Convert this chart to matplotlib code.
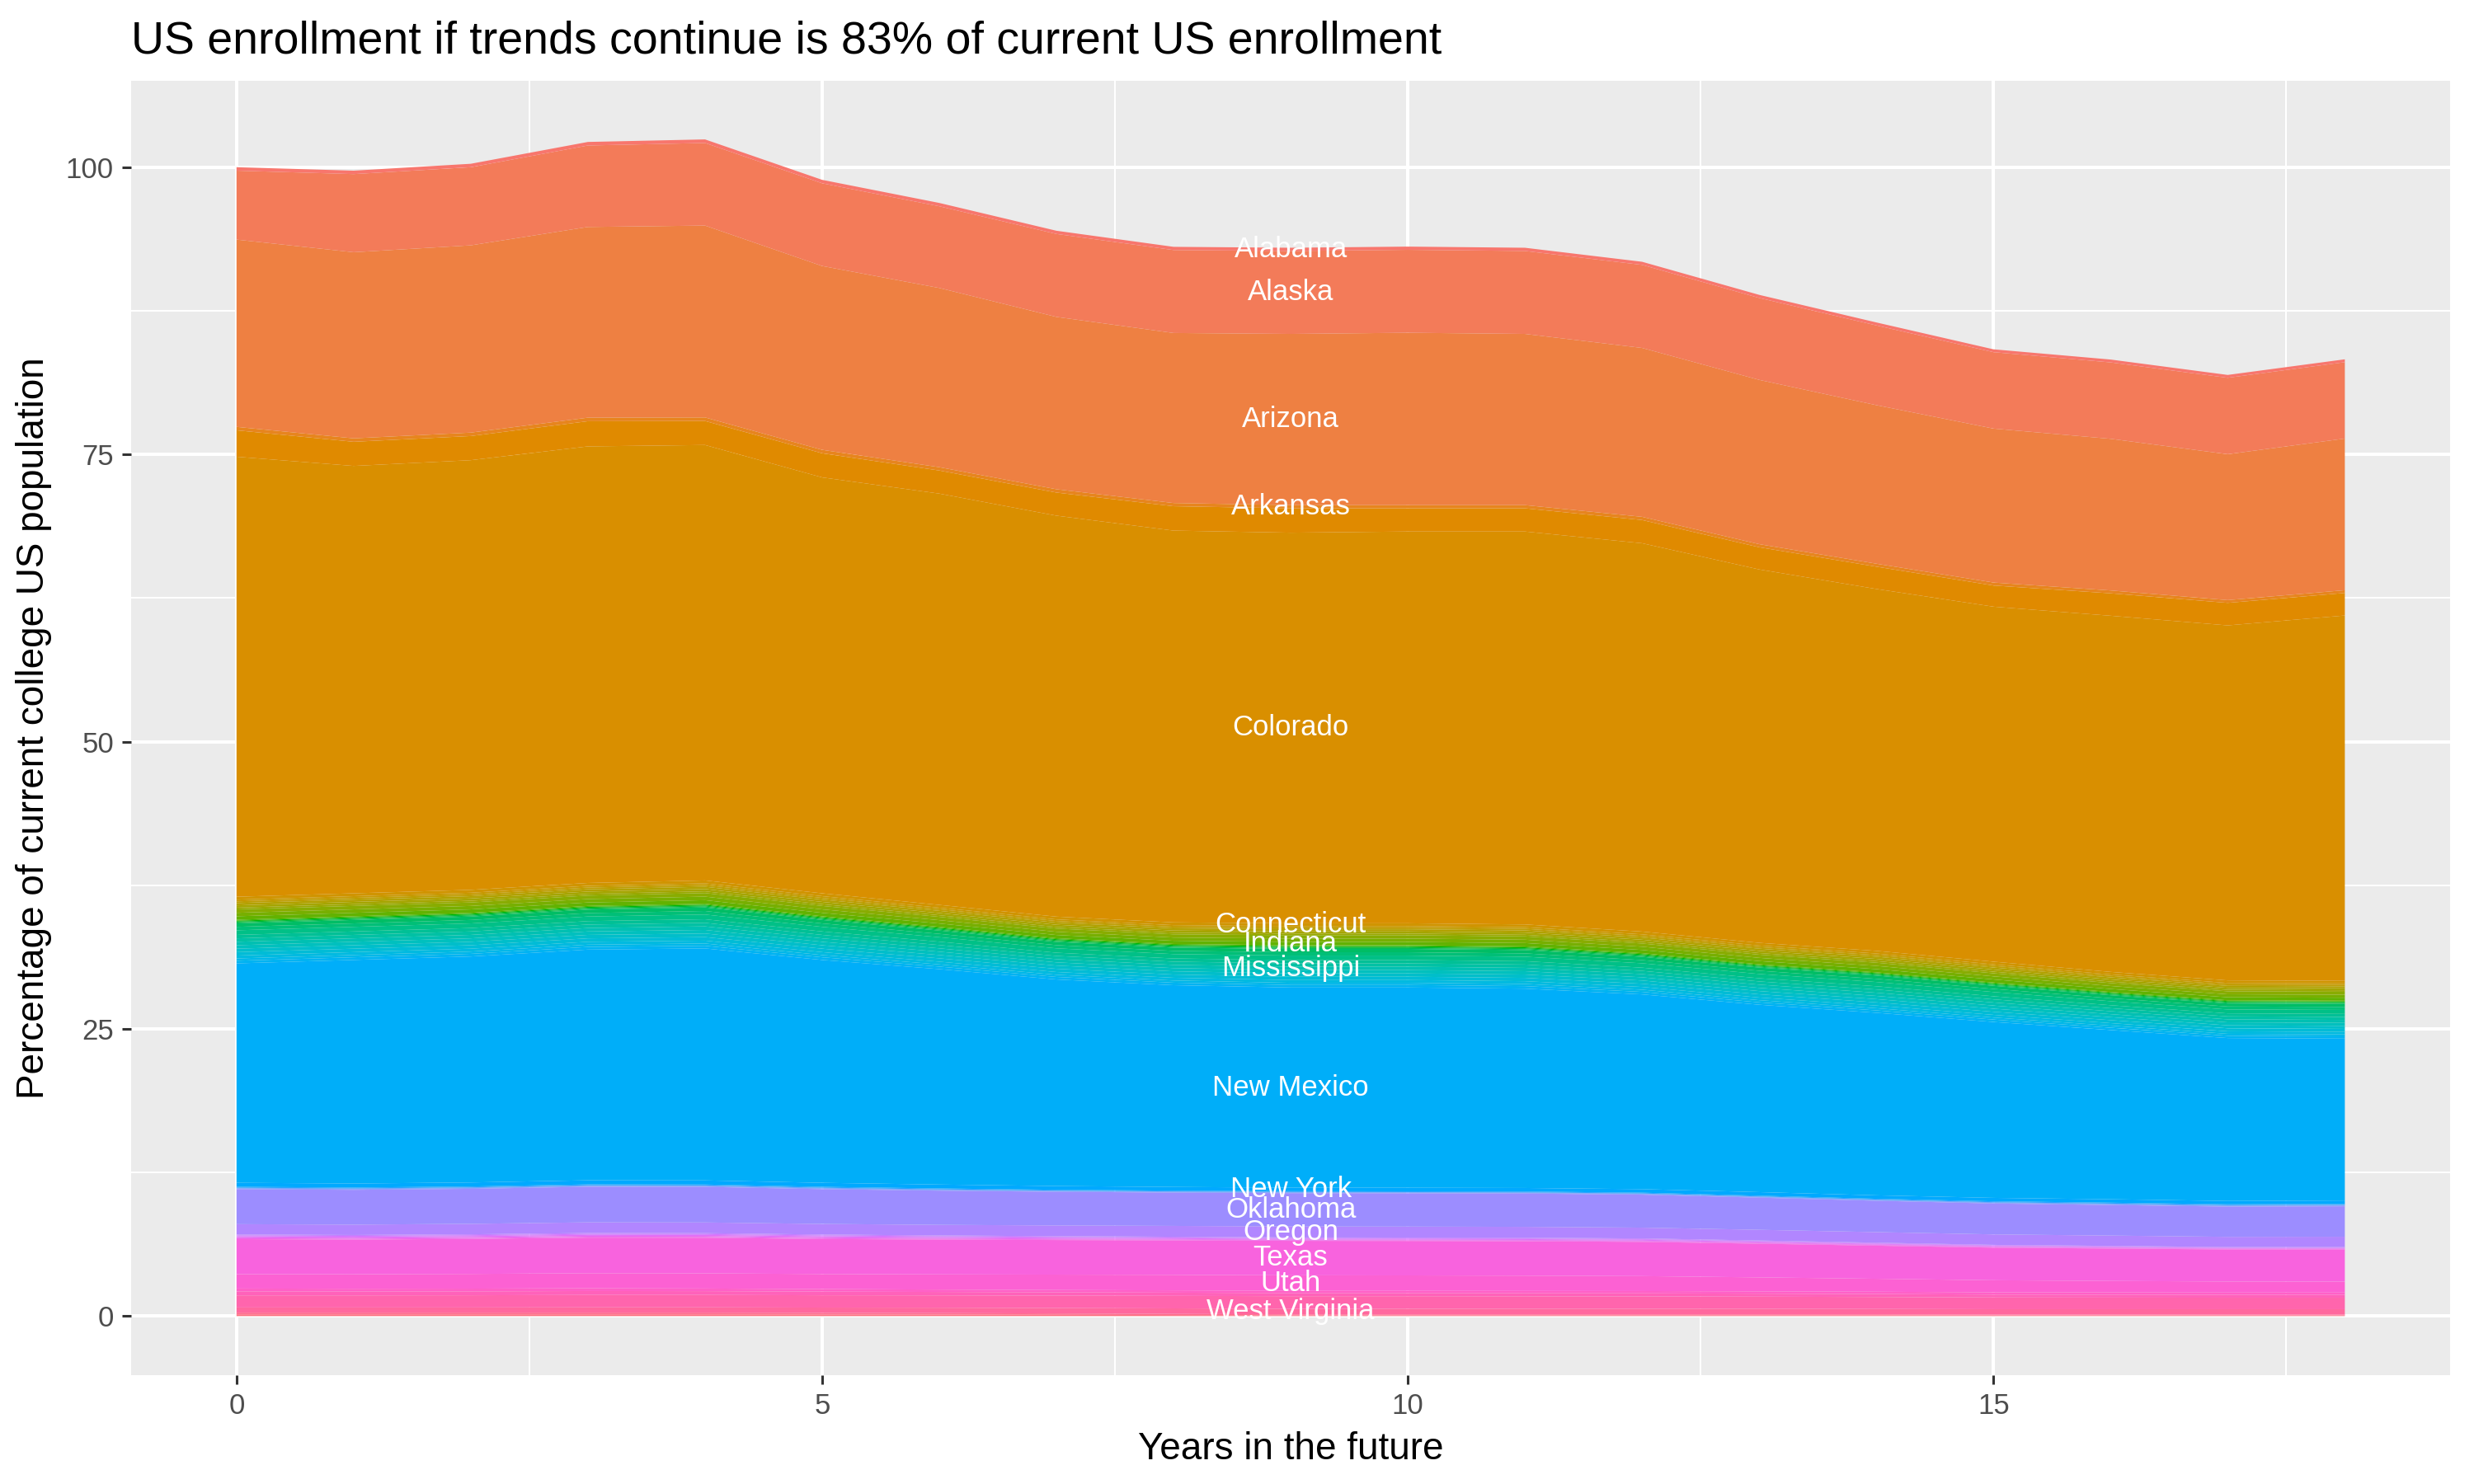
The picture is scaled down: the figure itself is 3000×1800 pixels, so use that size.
import matplotlib
matplotlib.use("Agg")
import matplotlib.pyplot as plt
from matplotlib.ticker import MultipleLocator
import numpy as np

plt.rcParams['font.family'] = ['Liberation Sans', 'DejaVu Sans']

# years after today
years = list(range(19))

# share of current US college population, one list per state (order = stacking order, top first)
states = ["Alabama", "Alaska", "Arizona", "Arkansas", "California", "Colorado", "Connecticut",
          "Delaware", "District of Columbia", "Florida", "Georgia", "Hawaii", "Idaho", "Illinois",
          "Indiana", "Iowa", "Kansas", "Kentucky", "Louisiana", "Maine", "Maryland",
          "Massachusetts", "Michigan", "Minnesota", "Mississippi", "Missouri", "Montana",
          "Nebraska", "Nevada", "New Hampshire", "New Jersey", "New Mexico", "New York",
          "North Carolina", "North Dakota", "Ohio", "Oklahoma", "Oregon", "Pennsylvania",
          "Rhode Island", "South Carolina", "South Dakota", "Tennessee", "Texas", "Utah",
          "Vermont", "Virginia", "Washington", "West Virginia", "Wisconsin", "Wyoming"]

alabama = [0.30, 0.30, 0.30, 0.31, 0.31, 0.30, 0.29, 0.28, 0.28, 0.28, 0.28, 0.28, 0.27, 0.27, 0.26, 0.25, 0.25, 0.25, 0.25]
alaska = [6.00, 6.80, 6.80, 7.09, 7.19, 7.20, 7.11, 7.22, 7.22, 7.22, 7.22, 7.22, 7.23, 7.13, 6.94, 6.65, 6.65, 6.65, 6.65]
arizona = [16.3, 16.2, 16.3, 16.6, 16.7, 16.0, 15.6, 15.0, 14.8, 14.9, 15.0, 14.9, 14.7, 14.3, 13.8, 13.4, 13.2, 12.7, 13.2]
arkansas = [0.30, 0.30, 0.30, 0.31, 0.31, 0.30, 0.29, 0.29, 0.28, 0.28, 0.28, 0.28, 0.28, 0.27, 0.26, 0.26, 0.25, 0.24, 0.24]
california = [2.30, 2.10, 2.10, 2.19, 2.09, 2.10, 2.01, 2.01, 2.12, 2.12, 2.02, 2.02, 2.02, 1.93, 1.94, 1.84, 1.95, 1.96, 1.96]
colorado = [38.3, 37.2, 37.4, 38.0, 37.9, 36.2, 35.8, 34.9, 34.1, 34.0, 34.1, 34.2, 33.8, 32.5, 31.5, 30.9, 31.0, 30.9, 31.8]
connecticut = [0.25, 0.25, 0.25, 0.25, 0.25, 0.25, 0.24, 0.24, 0.24, 0.24, 0.24, 0.24, 0.24, 0.23, 0.23, 0.23, 0.22, 0.22, 0.22]
delaware = [0.15, 0.15, 0.15, 0.15, 0.15, 0.15, 0.14, 0.14, 0.14, 0.14, 0.14, 0.14, 0.14, 0.14, 0.14, 0.14, 0.13, 0.13, 0.13]
dc = [0.15, 0.15, 0.15, 0.15, 0.15, 0.15, 0.14, 0.14, 0.14, 0.14, 0.14, 0.14, 0.14, 0.14, 0.14, 0.14, 0.13, 0.13, 0.13]
florida = [0.20, 0.20, 0.20, 0.20, 0.20, 0.20, 0.19, 0.19, 0.19, 0.19, 0.19, 0.19, 0.19, 0.19, 0.19, 0.18, 0.18, 0.17, 0.17]
georgia = [0.20, 0.20, 0.20, 0.20, 0.20, 0.20, 0.19, 0.19, 0.19, 0.19, 0.19, 0.19, 0.19, 0.19, 0.19, 0.18, 0.18, 0.17, 0.17]
hawaii = [0.15, 0.15, 0.15, 0.15, 0.15, 0.15, 0.14, 0.14, 0.14, 0.14, 0.14, 0.14, 0.14, 0.14, 0.14, 0.14, 0.13, 0.13, 0.13]
idaho = [0.30, 0.30, 0.30, 0.30, 0.31, 0.30, 0.29, 0.28, 0.28, 0.29, 0.29, 0.29, 0.28, 0.28, 0.28, 0.27, 0.26, 0.26, 0.26]
illinois = [0.30, 0.30, 0.30, 0.30, 0.31, 0.30, 0.29, 0.28, 0.28, 0.29, 0.29, 0.29, 0.28, 0.28, 0.28, 0.27, 0.26, 0.26, 0.26]
indiana = [0.30, 0.30, 0.30, 0.30, 0.31, 0.30, 0.29, 0.28, 0.28, 0.29, 0.29, 0.29, 0.28, 0.28, 0.28, 0.27, 0.26, 0.26, 0.26]
iowa = [0.08, 0.08, 0.08, 0.08, 0.08, 0.08, 0.08, 0.08, 0.08, 0.08, 0.08, 0.08, 0.08, 0.07, 0.07, 0.07, 0.07, 0.07, 0.07]
kansas = [0.08, 0.08, 0.08, 0.08, 0.08, 0.08, 0.08, 0.08, 0.08, 0.08, 0.08, 0.08, 0.08, 0.07, 0.07, 0.07, 0.07, 0.07, 0.07]
kentucky = [0.08, 0.08, 0.08, 0.08, 0.08, 0.08, 0.08, 0.08, 0.08, 0.08, 0.08, 0.08, 0.08, 0.07, 0.07, 0.07, 0.07, 0.07, 0.07]
louisiana = [0.08, 0.08, 0.08, 0.08, 0.08, 0.08, 0.08, 0.08, 0.08, 0.08, 0.08, 0.08, 0.08, 0.07, 0.07, 0.07, 0.07, 0.07, 0.07]
maine = [0.30, 0.30, 0.30, 0.30, 0.31, 0.30, 0.29, 0.28, 0.28, 0.29, 0.29, 0.29, 0.28, 0.28, 0.28, 0.27, 0.26, 0.26, 0.26]
maryland = [0.30, 0.30, 0.30, 0.30, 0.31, 0.30, 0.29, 0.28, 0.28, 0.29, 0.29, 0.29, 0.28, 0.28, 0.28, 0.27, 0.26, 0.26, 0.26]
massachusetts = [0.40, 0.40, 0.40, 0.40, 0.41, 0.40, 0.39, 0.38, 0.38, 0.39, 0.39, 0.39, 0.38, 0.37, 0.37, 0.37, 0.35, 0.34, 0.35]
michigan = [0.30, 0.30, 0.30, 0.30, 0.31, 0.30, 0.29, 0.28, 0.28, 0.29, 0.29, 0.29, 0.28, 0.28, 0.28, 0.27, 0.26, 0.26, 0.26]
minnesota = [0.30, 0.30, 0.30, 0.30, 0.31, 0.30, 0.29, 0.28, 0.28, 0.29, 0.29, 0.29, 0.28, 0.28, 0.28, 0.27, 0.26, 0.26, 0.26]
mississippi = [0.30, 0.30, 0.30, 0.30, 0.31, 0.30, 0.29, 0.28, 0.28, 0.29, 0.29, 0.29, 0.28, 0.28, 0.28, 0.27, 0.26, 0.26, 0.26]
missouri = [0.30, 0.30, 0.30, 0.30, 0.31, 0.30, 0.29, 0.28, 0.28, 0.29, 0.29, 0.29, 0.28, 0.28, 0.28, 0.27, 0.26, 0.26, 0.26]
montana = [0.30, 0.30, 0.30, 0.30, 0.31, 0.30, 0.29, 0.28, 0.28, 0.29, 0.29, 0.29, 0.28, 0.28, 0.28, 0.27, 0.26, 0.26, 0.26]
nebraska = [0.30, 0.30, 0.30, 0.30, 0.31, 0.30, 0.29, 0.28, 0.28, 0.29, 0.29, 0.29, 0.28, 0.28, 0.28, 0.27, 0.26, 0.26, 0.26]
nevada = [0.25, 0.25, 0.25, 0.25, 0.25, 0.25, 0.24, 0.24, 0.24, 0.24, 0.24, 0.24, 0.24, 0.23, 0.23, 0.23, 0.22, 0.22, 0.22]
new_hampshire = [0.20, 0.20, 0.20, 0.20, 0.20, 0.20, 0.19, 0.19, 0.19, 0.19, 0.19, 0.19, 0.19, 0.19, 0.19, 0.18, 0.18, 0.17, 0.17]
new_jersey = [0.23, 0.23, 0.23, 0.23, 0.23, 0.23, 0.22, 0.22, 0.22, 0.22, 0.22, 0.22, 0.22, 0.21, 0.21, 0.21, 0.20, 0.20, 0.20]
new_mexico = [19.10, 19.46, 19.67, 20.08, 20.19, 19.40, 18.75, 17.98, 17.56, 17.42, 17.43, 17.35, 16.95, 16.31, 15.89, 15.31, 14.73, 14.18, 14.09]
new_york = [0.35, 0.35, 0.35, 0.36, 0.36, 0.35, 0.34, 0.33, 0.32, 0.31, 0.31, 0.31, 0.31, 0.31, 0.30, 0.30, 0.30, 0.29, 0.30]
north_carolina = [0.08, 0.08, 0.08, 0.08, 0.08, 0.08, 0.08, 0.07, 0.07, 0.07, 0.07, 0.07, 0.07, 0.07, 0.07, 0.08, 0.08, 0.08, 0.08]
north_dakota = [0.06, 0.06, 0.06, 0.06, 0.06, 0.06, 0.06, 0.05, 0.05, 0.05, 0.05, 0.05, 0.05, 0.05, 0.05, 0.06, 0.06, 0.06, 0.06]
ohio = [0.06, 0.06, 0.06, 0.06, 0.06, 0.06, 0.05, 0.05, 0.05, 0.05, 0.05, 0.05, 0.05, 0.05, 0.05, 0.05, 0.06, 0.06, 0.06]
oklahoma = [3.05, 3.03, 3.05, 3.10, 3.10, 3.03, 2.98, 2.93, 2.90, 2.90, 2.90, 2.90, 2.87, 2.80, 2.73, 2.69, 2.66, 2.63, 2.65]
oregon = [0.90, 0.90, 0.91, 0.93, 0.93, 0.92, 0.92, 0.93, 0.94, 0.95, 0.95, 0.95, 0.94, 0.93, 0.92, 0.91, 0.90, 0.89, 0.90]
pennsylvania = [0.08, 0.08, 0.08, 0.08, 0.08, 0.08, 0.07, 0.07, 0.07, 0.06, 0.06, 0.06, 0.06, 0.06, 0.05, 0.05, 0.05, 0.04, 0.04]
rhode_island = [0.07, 0.07, 0.07, 0.07, 0.07, 0.07, 0.07, 0.06, 0.06, 0.06, 0.06, 0.06, 0.06, 0.05, 0.05, 0.05, 0.04, 0.04, 0.04]
south_carolina = [0.09, 0.09, 0.09, 0.09, 0.09, 0.09, 0.08, 0.08, 0.07, 0.07, 0.07, 0.07, 0.07, 0.06, 0.06, 0.05, 0.05, 0.05, 0.05]
south_dakota = [0.08, 0.08, 0.08, 0.08, 0.08, 0.08, 0.07, 0.07, 0.06, 0.06, 0.06, 0.06, 0.06, 0.06, 0.05, 0.05, 0.05, 0.04, 0.04]
tennessee = [0.08, 0.08, 0.08, 0.08, 0.08, 0.07, 0.07, 0.06, 0.06, 0.05, 0.05, 0.05, 0.05, 0.05, 0.05, 0.04, 0.04, 0.04, 0.04]
texas = [3.05, 3.02, 3.05, 3.10, 3.10, 3.05, 3.03, 3.01, 3.00, 3.00, 3.00, 3.00, 2.98, 2.93, 2.88, 2.84, 2.82, 2.79, 2.80]
utah = [1.25, 1.26, 1.28, 1.31, 1.32, 1.31, 1.32, 1.34, 1.35, 1.35, 1.34, 1.33, 1.30, 1.22, 1.13, 1.05, 1.00, 0.96, 0.95]
vermont = [0.25, 0.24, 0.24, 0.24, 0.23, 0.22, 0.21, 0.20, 0.20, 0.20, 0.20, 0.20, 0.20, 0.20, 0.20, 0.20, 0.20, 0.20, 0.20]
virginia = [0.35, 0.34, 0.34, 0.34, 0.33, 0.32, 0.30, 0.29, 0.28, 0.27, 0.27, 0.27, 0.27, 0.26, 0.26, 0.25, 0.25, 0.25, 0.25]
washington = [1.05, 1.05, 1.06, 1.08, 1.08, 1.07, 1.07, 1.08, 1.09, 1.10, 1.10, 1.09, 1.08, 1.06, 1.04, 1.02, 1.01, 1.00, 1.00]
west_virginia = [0.45, 0.45, 0.45, 0.46, 0.46, 0.46, 0.47, 0.47, 0.48, 0.48, 0.48, 0.48, 0.48, 0.48, 0.47, 0.47, 0.47, 0.47, 0.47]
wisconsin = [0.15, 0.15, 0.15, 0.15, 0.15, 0.14, 0.13, 0.12, 0.10, 0.08, 0.08, 0.08, 0.08, 0.08, 0.08, 0.07, 0.07, 0.07, 0.07]
wyoming = [0.15, 0.15, 0.15, 0.15, 0.15, 0.14, 0.13, 0.11, 0.09, 0.07, 0.07, 0.07, 0.07, 0.07, 0.07, 0.06, 0.06, 0.06, 0.06]

series = [alabama, alaska, arizona, arkansas, california, colorado, connecticut, delaware, dc,
          florida, georgia, hawaii, idaho, illinois, indiana, iowa, kansas, kentucky, louisiana,
          maine, maryland, massachusetts, michigan, minnesota, mississippi, missouri, montana,
          nebraska, nevada, new_hampshire, new_jersey, new_mexico, new_york, north_carolina,
          north_dakota, ohio, oklahoma, oregon, pennsylvania, rhode_island, south_carolina,
          south_dakota, tennessee, texas, utah, vermont, virginia, washington, west_virginia,
          wisconsin, wyoming]

labelled = ["Alabama", "Alaska", "Arizona", "Arkansas", "Colorado", "Connecticut", "Indiana",
            "Mississippi", "New Mexico", "New York", "Oklahoma", "Oregon", "Texas", "Utah",
            "West Virginia"]
label_year = 9

title = "US enrollment if trends continue is 83% of current US enrollment"


def hue_color(h, c=100.0, l=65.0):
    # polar Luv -> sRGB, same as R's hcl()
    hr = np.deg2rad(h)
    u, v = c * np.cos(hr), c * np.sin(hr)
    xn, yn, zn = 95.047, 100.0, 108.883
    un = 4 * xn / (xn + 15 * yn + 3 * zn)
    vn = 9 * yn / (xn + 15 * yn + 3 * zn)
    y = yn * ((l + 16) / 116) ** 3
    up = u / (13 * l) + un
    vp = v / (13 * l) + vn
    x = 9 * y * up / (4 * vp)
    z = y * (12 - 3 * up - 20 * vp) / (4 * vp)
    m = np.array([[3.2404542, -1.5371385, -0.4985314],
                  [-0.9692660, 1.8760108, 0.0415560],
                  [0.0556434, -0.2040259, 1.0572252]])
    rgb = m @ (np.array([x, y, z]) / 100)
    rgb = np.where(rgb <= 0.0031308, 12.92 * rgb,
                   1.055 * np.power(np.clip(rgb, 0, None), 1 / 2.4) - 0.055)
    return tuple(np.clip(rgb, 0, 1))


n = len(states)
colors = [hue_color(15 + i * 360 / n) for i in range(n)]

fig = plt.figure(figsize=(15, 9), dpi=200)
ax = fig.add_axes([0.053, 0.0735, 0.9374, 0.8722])
ax.set_facecolor('#EBEBEB')

# first state goes on top of the stack, like ggplot
ax.stackplot(years, *series[::-1], colors=colors[::-1], linewidth=0, zorder=2)

# state names at the middle of their band
vals = np.array(series)
tops = np.cumsum(vals[::-1], axis=0)[::-1]
for name, top, v in zip(states, tops, vals):
    if name in labelled:
        ax.text(years[label_year], top[label_year] - v[label_year] / 2, name,
                color='white', fontsize=12.5, ha='center', va='center', zorder=3)

ymax = tops[0].max()
ax.set_xlim(-0.05 * 18, 18 * 1.05)
ax.set_ylim(-0.05 * ymax, ymax * 1.05)
ax.xaxis.set_major_locator(MultipleLocator(5))
ax.xaxis.set_minor_locator(MultipleLocator(2.5))
ax.yaxis.set_major_locator(MultipleLocator(25))
ax.yaxis.set_minor_locator(MultipleLocator(12.5))
ax.grid(which='major', color='white', linewidth=1.45, zorder=1)
ax.grid(which='minor', color='white', linewidth=0.72, zorder=1)
ax.set_axisbelow(True)
for s in ax.spines.values():
    s.set_visible(False)
ax.tick_params(which='major', length=4, width=1.1, color='#333333', labelcolor='#4D4D4D',
               labelsize=12.5, pad=3.6)
ax.tick_params(which='minor', length=0)

ax.set_xlabel('Years in the future', fontsize=16.5, labelpad=5)
ax.set_ylabel('Percentage of current college US population', fontsize=16.5, labelpad=6)
ax.set_title(title, loc='left', fontsize=20, pad=12)

fig.savefig('out.png', dpi=200)
